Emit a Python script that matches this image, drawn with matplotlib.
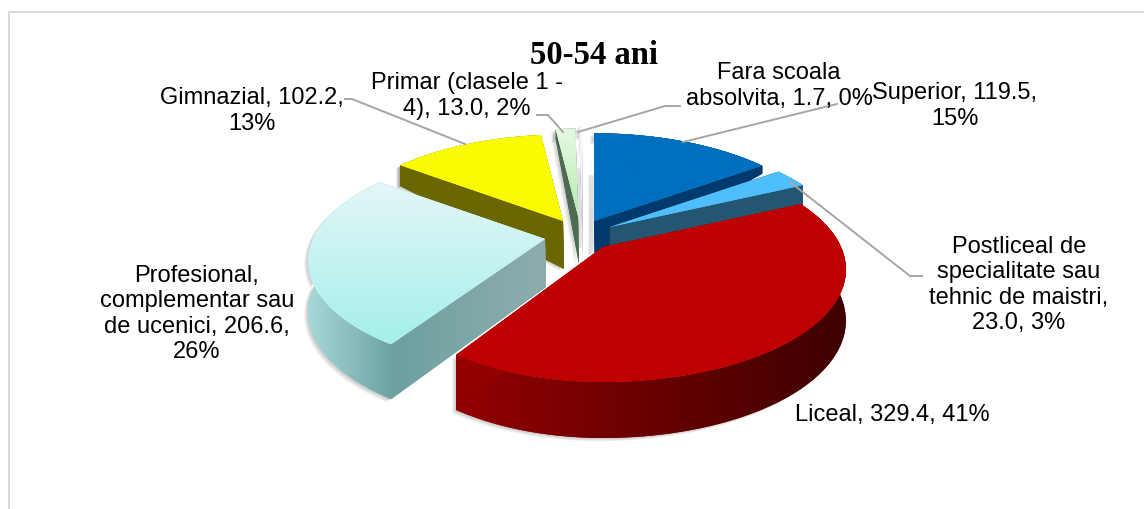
import numpy as np
import matplotlib
matplotlib.use('Agg')
import matplotlib.pyplot as plt
from matplotlib.colors import LinearSegmentedColormap
from matplotlib.patches import Polygon

categories = ['Superior', 'Postliceal de specialitate sau tehnic de maistri', 'Liceal',
              'Profesional, complementar sau de ucenici', 'Gimnazial',
              'Primar (clasele 1 - 4)', 'Fara scoala absolvita']
values = [119.5, 23.0, 329.4, 206.6, 102.2, 13.0, 1.7]

# line breaks of each data label, value and percent get filled in below
label_lines = [
    'Superior, {v},\n{p}%',
    'Postliceal de\nspecialitate sau\ntehnic de maistri,\n{v}, {p}%',
    'Liceal, {v}, {p}%',
    'Profesional,\ncomplementar sau\nde ucenici, {v},\n{p}%',
    'Gimnazial, {v},\n{p}%',
    'Primar (clasele 1 -\n4), {v}, {p}%',
    'Fara scoala\nabsolvita, {v}, {p}%',
]
label_pos = [(955, 106), (1019, 285), (892, 415), (197, 314), (252, 111), (467, 96), (779, 86)]

# screen position of each slice tip (exploded 3D pie)
apex = [(594, 222), (610, 228), (603, 248), (545, 240), (563, 222), (578, 217), (582, 215)]
back_slope = [72, 60, 40, 40, 48, 40, 40]
radius_scale = [0.975, 0.975, 1.0, 0.975, 0.96, 0.97, 0.97]
left_scale = [1.0, 1.0, 0.93, 1.0, 1.0, 1.0, 1.0]

top_colors = [['#006fbf', '#006fbf'], ['#4fbefc', '#4fbefc'], ['#bf0000', '#bf0000'],
              ['#e4f7f7', '#a4efeb'], ['#fbfb00', '#fbfb00'], ['#e6f8e4', '#b4eeae'],
              ['#f6f8fc', '#eef1f8']]
wall_colors = [['#003a6e', '#003a6e'], ['#003a6e', '#003a6e'], ['#930000', '#3e0000'],
               ['#a8d8d8', '#6fa3a3'], ['#6b6700', '#6b6700'], ['#5a7a5c', '#5a7a5c'],
               ['#c5cad4', '#c5cad4']]
face_colors = [['#003a6e', '#003a6e'], ['#245672', '#245672'], ['#930000', '#930000'],
               ['#6da0a0', '#8fadad'], ['#6b6700', '#6b6700'], ['#4f6b52', '#4f6b52'],
               ['#b8bec8', '#b8bec8']]

leaders = [
    [(683, 143), (837, 105)],
    [(790, 183), (910, 277), (922, 277)],
    [],
    [],
    [(465, 145), (352, 100), (345, 100)],
    [(563, 133), (548, 116), (537, 116)],
    [(578, 133), (665, 107), (680, 107)],
]

RX, RY, PERSP = 238, 108, 0.2


def project(theta, tip, slope, scale, left):
    th = np.radians(theta)
    y = np.cos(th)
    s = scale / (1 + PERSP * y)
    dx = RX * np.sin(th) * s
    px = tip[0] + np.where(dx < 0, dx * left, dx)
    py = tip[1] - RY * y * s
    d = np.where(y > 0, np.maximum(50 - slope * y, 8), 50 - 6 * y)
    return px, py, d


def gradient_poly(ax, xy, colors, vertical, z):
    xy = np.asarray(xy)
    x0, x1 = xy[:, 0].min(), xy[:, 0].max()
    y0, y1 = xy[:, 1].min(), xy[:, 1].max()
    cmap = LinearSegmentedColormap.from_list('c', colors)
    grad = np.linspace(0, 1, 256)
    grad = grad[:, None] if vertical else grad[None, :]
    poly = Polygon(xy, closed=True, facecolor=colors[0], edgecolor='none', zorder=z)
    ax.add_patch(poly)
    im = ax.imshow(grad, extent=(x0, x1, y1, y0), cmap=cmap, aspect='auto', zorder=z, vmin=0, vmax=1)
    im.set_clip_path(poly)


fig = plt.figure(figsize=(11.44, 5.10), dpi=100)
ax = fig.add_axes([0, 0, 1, 1])

edges = np.concatenate([[0], np.cumsum(values)]) / sum(values) * 360
order = [0, 1, 6, 5, 4, 3, 2]
z = 2
for i in order:
    tip = apex[i]
    thetas = np.linspace(edges[i], edges[i + 1], 80)
    ax_, ay_, d = project(thetas, tip, back_slope[i], radius_scale[i], left_scale[i])
    top = np.column_stack([np.r_[tip[0], ax_], np.r_[tip[1], ay_]])
    wall = np.column_stack([np.r_[ax_, ax_[::-1]], np.r_[ay_, (ay_ + d)[::-1]]])
    tip_low = (tip[0] + 1, tip[1] + 48)
    face1 = [tip, (ax_[0], ay_[0]), (ax_[0], ay_[0] + d[0]), tip_low]
    face2 = [tip, (ax_[-1], ay_[-1]), (ax_[-1], ay_[-1] + d[-1]), tip_low]

    # soft shadow around the lower outline
    for off in (1, 2, 3, 4):
        ax.add_patch(Polygon(wall + [-off, off * 0.8], closed=True, facecolor='#404040', alpha=0.07,
                             edgecolor='none', zorder=z))
        ax.add_patch(Polygon(np.array(face1) + [-off, off * 0.5], closed=True, facecolor='#404040', alpha=0.07,
                             edgecolor='none', zorder=z))
    if i in (0, 6):
        for off in (1, 2, 3, 4, 5):
            ax.plot([tip[0] - off] * 2, [tip[1] - 45, tip[1] + 33], color='#404040', alpha=0.09, lw=1.2, zorder=z)
    z += 1
    gradient_poly(ax, wall, wall_colors[i], False, z)
    z += 1
    gradient_poly(ax, face1, face_colors[i], False, z)
    z += 1
    gradient_poly(ax, face2, face_colors[i], False, z)
    z += 1
    gradient_poly(ax, top, top_colors[i], True, z)
    z += 1

total = sum(values)
for i in range(len(values)):
    text = label_lines[i].format(v=f'{values[i]:.1f}', p=round(values[i] / total * 100))
    ax.text(label_pos[i][0], label_pos[i][1], text, ha='center', va='center', fontsize=17,
            family='Liberation Sans', color='black', linespacing=1.21, zorder=100)
    if leaders[i]:
        pts = np.array(leaders[i])
        ax.plot(pts[:, 0], pts[:, 1], color='#a6a6a6', lw=1.4, zorder=90)

ax.text(594, 56, '50-54 ani', ha='center', va='center', fontsize=23.5, fontweight='bold',
        family='Liberation Serif', color='black', zorder=100)

# chart area border, cut by the image edge on the right and bottom
ax.plot([9, 9, 1144], [510, 12.5, 12.5], color='#d9d9d9', lw=1.4, zorder=1)

ax.set_xlim(0, 1144)
ax.set_ylim(510, 0)
ax.axis('off')
fig.savefig('out.png', dpi=100)
